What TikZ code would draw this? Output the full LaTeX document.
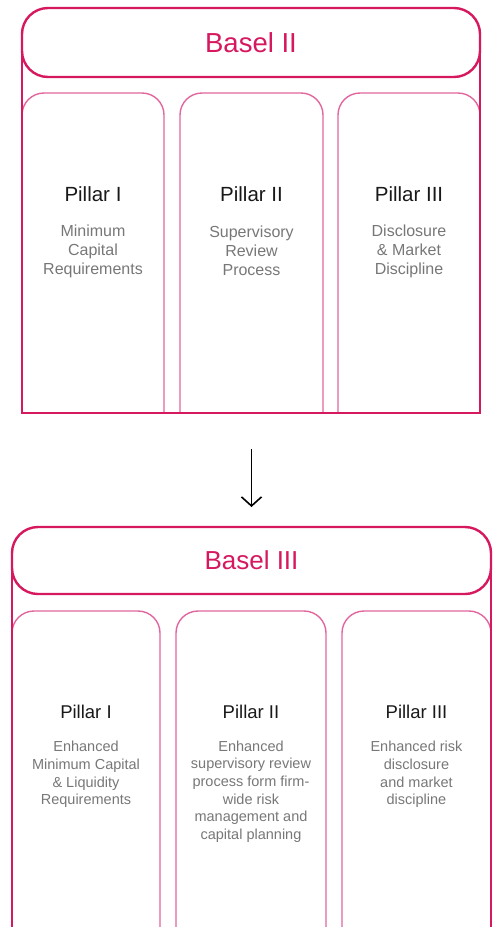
\documentclass[tikz,border=0pt]{standalone}
\usepackage{fontspec}
\setmainfont{Liberation Sans}
\usetikzlibrary{positioning, arrows.meta}
\definecolor{basel}{HTML}{D6185F}
\definecolor{pillarline}{HTML}{E2669E}
\definecolor{desctext}{HTML}{777777}

\begin{document}
\begin{tikzpicture}[
  x=1pt, y=-1pt,
  head/.style   = {rectangle, draw=basel, line width=2.4pt, fill=white, rounded corners=26pt, outer sep=0pt, text=basel},
  pillar/.style = {rectangle, outer sep=0pt, inner sep=0pt},
  wall/.style   = {draw=pillarline, line width=1.4pt, rounded corners=22pt},
  frame/.style  = {draw=basel, line width=2.4pt},
  title/.style  = {text=black!90, font=#1},
  desc/.style   = {text=desctext, align=center, font=#1},
  evolve/.style = {line width=1.6pt, -{Straight Barb[length=9pt, width=20pt]}, shorten <=36pt, shorten >=20pt},
  ]
  \useasboundingbox (0,0) rectangle (494,927);
  \clip (0,0) rectangle (494,927);

  % Basel II
  \node (b2)   at (251,42.5)	[head, minimum width=458pt, minimum height=69pt, font=\fontsize{27.5}{33}\selectfont] {Basel II};
  \node (b2p1) at (93,253)	[pillar, minimum width=142pt, minimum height=320pt] {};
  \node (b2p2) at (251.5,253)	[pillar, minimum width=143pt, minimum height=320pt] {};
  \node (b2p3) at (409,253)	[pillar, minimum width=142pt, minimum height=320pt] {};

  \node (b2t1) at (93,194)	[title={\fontsize{20.5}{24}\selectfont}] {Pillar I};
  \node (b2t2) at (251.5,194)	[title={\fontsize{20.5}{24}\selectfont}] {Pillar II};
  \node (b2t3) at (409,194)	[title={\fontsize{20.5}{24}\selectfont}] {Pillar III};
  \node (b2d1) at (93,251)	[desc={\fontsize{16}{19}\selectfont}] {Minimum\\Capital\\Requirements};
  \node (b2d2) at (251.5,251)	[desc={\fontsize{16}{19}\selectfont}] {Supervisory\\Review\\Process};
  \node (b2d3) at (409,251)	[desc={\fontsize{16}{19}\selectfont}] {Disclosure\\\& Market\\Discipline};

  % Basel III
  \node (b3)   at (251.5,560.5)	[head, minimum width=479pt, minimum height=67pt, font=\fontsize{26}{31}\selectfont] {Basel III};
  \node (b3p1) at (86,785.5)	[pillar, minimum width=148pt, minimum height=349pt] {};
  \node (b3p2) at (251,785.5)	[pillar, minimum width=150pt, minimum height=349pt] {};
  \node (b3p3) at (416.5,785.5)	[pillar, minimum width=149pt, minimum height=349pt] {};

  \node (b3t1) at (86,712)	[title={\fontsize{18.5}{22}\selectfont}] {Pillar I};
  \node (b3t2) at (251,712)	[title={\fontsize{18.5}{22}\selectfont}] {Pillar II};
  \node (b3t3) at (416.5,712)	[title={\fontsize{18.5}{22}\selectfont}] {Pillar III};
  \node (b3d1) at (86,774.5)	[desc={\fontsize{14.5}{17.7}\selectfont}] {Enhanced\\Minimum Capital\\\& Liquidity\\Requirements};
  \node (b3d2) at (251,791.5)	[desc={\fontsize{14.5}{17.7}\selectfont}] {Enhanced\\supervisory review\\process form firm-\\wide risk\\management and\\capital planning};
  \node (b3d3) at (416.5,774.5)	[desc={\fontsize{14.5}{17.7}\selectfont}] {Enhanced risk\\disclosure\\and market\\discipline};

  % Pillar outlines, open at the foot
  \foreach \p in {b2p1,b2p2,b2p3,b3p1,b3p2,b3p3}
    \draw[wall] (\p.south west) -- (\p.north west) -- (\p.north east) -- (\p.south east);

  % Outer frames hanging from the headers
  \draw[frame] (b2.west) |- (b2p2.south) -| (b2.east);
  \draw[frame] (b3.west) |- (b3p2.south) -| (b3.east);

  % Basel II to Basel III
  \draw[evolve] (b2p2.south) -- (b3.north);
\end{tikzpicture}
\end{document}
